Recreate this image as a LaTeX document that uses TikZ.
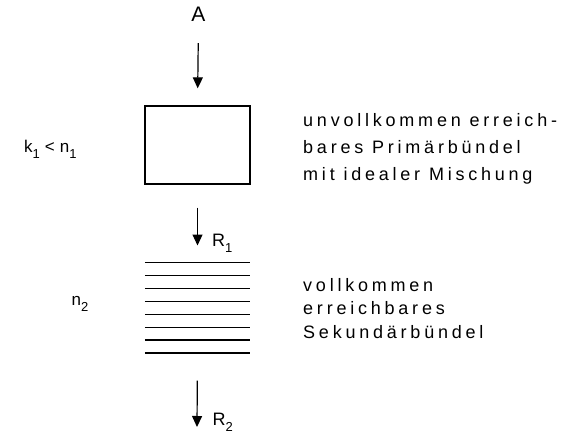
\documentclass[tikz,border=0pt]{standalone}
\usepackage{fontspec}
\setmainfont{Liberation Sans}
\newfontfamily\lettering[LetterSpace=21]{Liberation Sans}
\usetikzlibrary{arrows.meta,calc}
\newcommand{\lowidx}[1]{\raisebox{-6.5pt}{\fontsize{13}{13}\selectfont #1}}

\begin{document}
\begin{tikzpicture}[x=1pt, y=-1pt,
    bund/.style={draw, line width=1.3pt, minimum width=105pt, minimum height=78pt, inner sep=0pt},
    stack/.style={minimum width=105pt, minimum height=90.6pt, inner sep=0pt},
    arr/.style={-{Triangle[length=11pt, width=10pt]}, line width=1.2pt},
    lbl/.style={font=\lettering\fontsize{18}{18}\selectfont, inner sep=0pt, anchor=base west},
    desc/.style={font=\lettering\fontsize{18}{26.7}\selectfont, align=left, inner sep=0pt, anchor=base west}
]
\useasboundingbox (0,0) rectangle (573,437);
\node[lbl, anchor=base, font=\fontsize{21}{21}\selectfont] (inp) at (198.5,21) {A};
\node[bund] (prim) at (197.5,145) {};
\node[stack] (sek) at (197.5,308) {};
\foreach \i in {0,...,7}
  \draw[line width=1.3pt] ($(sek.north west)+(0,\i*12.94)$) -- ($(sek.north east)+(0,\i*12.94)$);
\coordinate (out) at (197,427);

\draw[arr, shorten <=22pt, shorten >=17pt] (inp.south) -- (prim.north);
\draw[arr, shorten <=23pt, shorten >=17pt] (prim.south) -- (sek.north);
\draw[arr, shorten <=27pt] (sek.south) -- (out);

\node[lbl] (r1) at (212,246) {R\lowidx{1}};
\node[lbl] (r2) at (212.5,425) {R\lowidx{2}};
\node[lbl, font=\lettering\fontsize{17}{17}\selectfont] (kn) at (24,152) {k\lowidx{1}\hspace{5pt}<\hspace{5pt}n\lowidx{1}};
\node[lbl, font=\lettering\fontsize{17}{17}\selectfont] (n2) at (71.5,305) {n\lowidx{2}};

\node[desc] (dprim) at (303,180) {unvollkommen erreich-\\bares Primärbündel\\mit idealer Mischung};
\node[desc, font=\lettering\fontsize{18}{23.2}\selectfont] (dsek) at (303,338.1) {vollkommen\\erreichbares\\Sekundärbündel};
\end{tikzpicture}
\end{document}
